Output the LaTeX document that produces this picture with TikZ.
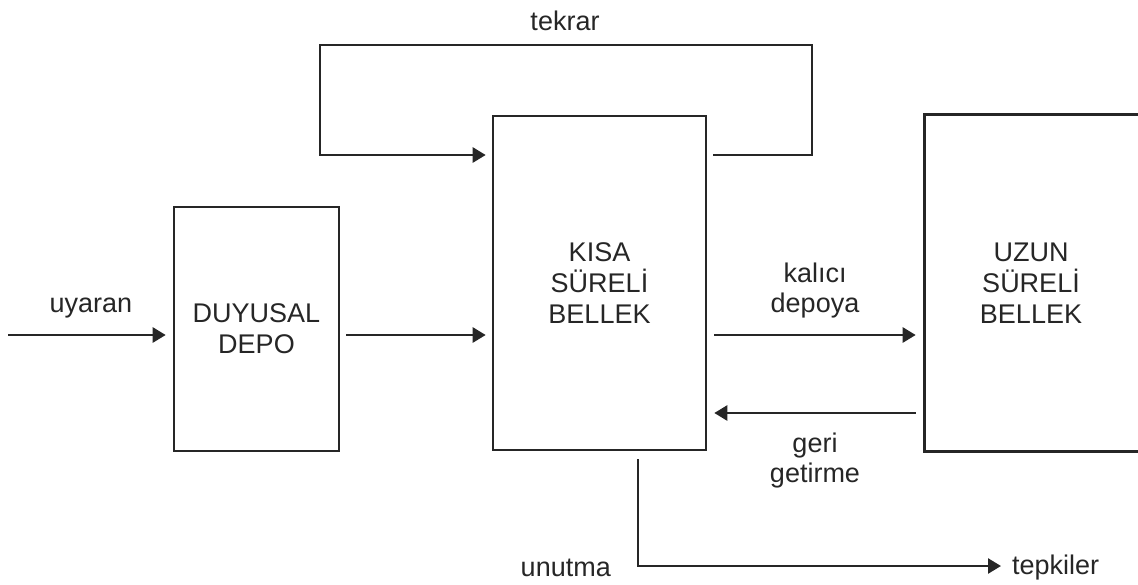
\documentclass[tikz,border=0pt]{standalone}
\usepackage{fontspec}
\setmainfont{Liberation Sans}
\usetikzlibrary{arrows.meta}
\tikzset{
  box/.style={draw=black!85, line width=2.6pt, inner sep=0pt, align=center, font=\fontsize{27}{31}\selectfont, text=black!85},
  lbl/.style={inner sep=0pt, align=center, font=\fontsize{27}{30}\selectfont, text=black!85},
  arr/.style={draw=black!85, line width=2.6pt, -{Triangle[length=13pt,width=15pt]}},
  ln/.style={draw=black!85, line width=2.6pt},
}
\begin{document}
\begin{tikzpicture}[x=1pt,y=-1pt]
\useasboundingbox (0,0) rectangle (1138,584);
\clip (0,0) rectangle (1138,584);
\node[box, minimum width=165pt, minimum height=244pt] (duy) at (256.5,329) {DUYUSAL\\DEPO};
\node[box, minimum width=213pt, minimum height=334pt] (kisa) at (599.5,283) {KISA\\SÜRELİ\\BELLEK};
\node[box, draw=none, minimum width=210pt, minimum height=334pt] (uzun) at (1031,283) {UZUN\\SÜRELİ\\BELLEK};
\draw[ln] ([xshift=20pt]uzun.north east) -- (uzun.north west) -- (uzun.south west) -- ([xshift=20pt]uzun.south east);
% coordinates
\coordinate (in) at (8,335);
\coordinate (g) at (0,413);
\coordinate (lr) at (812,155);
\coordinate (ltr) at (812,45);
\coordinate (ltl) at (320,45);
\coordinate (ll) at (320,155);
\coordinate (ubot) at (638,566);
\coordinate (out) at (1001,566);
% arrows
\draw[arr, shorten >=7pt] (in) -- (duy.west |- in);
\draw[arr, shorten <=6pt, shorten >=6pt] (duy.east |- in) -- (kisa.west |- in);
\draw[arr, shorten <=7pt, shorten >=9pt] (kisa.east |- in) -- (uzun.west |- in);
\draw[arr, shorten <=9pt, shorten >=7pt] (uzun.west |- g) -- (kisa.east |- g);
\draw[arr, shorten >=6pt] (kisa.east |- lr) ++(6,0) -- (lr) -- (ltr) -- (ltl) -- (ll) -- (kisa.west |- ll);
\draw[arr, shorten <=8pt] (kisa.south -| ubot) -- (ubot) -- (out);
% labels
\node[lbl] (tekrar) at (565,21) {tekrar};
\node[lbl] (uyaran) at (91,308) {uyaran};
\node[lbl] (kalici) at (815,291) {kalıcı\\depoya};
\node[lbl] (geri) at (815,461) {geri\\getirme};
\node[lbl, anchor=east] (unutma) at (611,568) {unutma};
\node[lbl, anchor=west] (tepkiler) at (1012,568) {tepkiler};
\end{tikzpicture}
\end{document}
